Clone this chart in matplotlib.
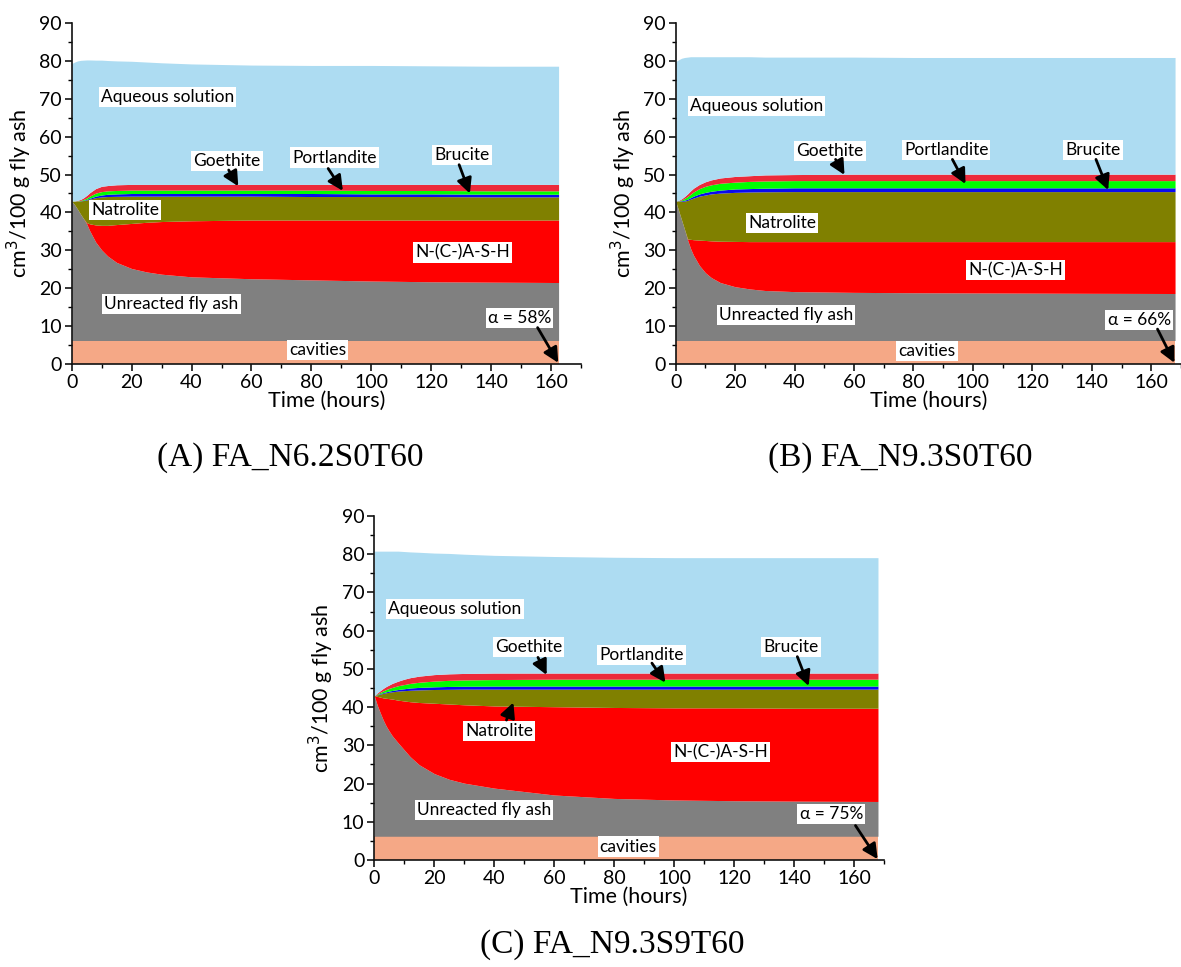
import numpy as np
import matplotlib
matplotlib.use('Agg')
import matplotlib.pyplot as plt

plt.rcParams['font.family'] = ['Lato', 'DejaVu Sans']

# --- data (top boundary of each layer, cm3/100 g fly ash) ---
cavities = 6.2

t_a = [0, 1, 2, 3, 4, 5, 6, 8, 10, 12, 15, 20, 25, 30, 40, 60, 80, 100, 120, 140, 162.5]
ash_a = [43, 42, 40.8, 39.5, 38.3, 37, 35.2, 32.2, 30.1, 28.5, 26.8, 25.2, 24.3, 23.7, 23.0, 22.5, 22.2, 21.9, 21.7, 21.6, 21.5]
nash_a = [43, 42, 40.8, 39.5, 38.3, 37.3, 37.0, 36.7, 36.6, 36.6, 36.8, 37.1, 37.4, 37.6, 37.8, 38.0, 38.0, 38.0, 38.0, 38.0, 38.0]
natro_a = [43, 43, 43, 43.05, 43.15, 43.3, 43.5, 43.9, 44.1, 44.2, 44.25, 44.3, 44.3, 44.3, 44.3, 44.3, 44.2, 44.2, 44.2, 44.1, 44.1]
bruc_a = [43, 43, 43.02, 43.1, 43.25, 43.45, 43.75, 44.3, 44.6, 44.8, 44.9, 45.0, 45.0, 45.0, 45.0, 45.0, 45.0, 44.9, 44.9, 44.8, 44.8]
port_a = [43, 43.02, 43.08, 43.2, 43.45, 43.8, 44.3, 45.1, 45.5, 45.7, 45.8, 45.9, 45.9, 45.9, 45.9, 45.9, 45.9, 45.8, 45.8, 45.7, 45.7]
goet_a = [43, 43.05, 43.2, 43.45, 43.9, 44.5, 45.2, 46.3, 46.9, 47.1, 47.3, 47.4, 47.4, 47.4, 47.4, 47.4, 47.4, 47.4, 47.4, 47.4, 47.4]
total_a = [79.3, 79.7, 80.0, 80.15, 80.2, 80.25, 80.25, 80.2, 80.2, 80.1, 80.0, 79.9, 79.7, 79.5, 79.2, 78.9, 78.8, 78.8, 78.7, 78.6, 78.6]

t_b = [0, 1, 2, 3, 4, 5, 6, 8, 10, 12, 15, 20, 25, 30, 40, 60, 80, 100, 120, 140, 168]
ash_b = [43, 40.5, 38, 35.5, 32.8, 30.5, 28.7, 26.0, 24.1, 22.8, 21.5, 20.4, 19.8, 19.4, 19.1, 18.9, 18.8, 18.75, 18.7, 18.65, 18.6]
nash_b = [43, 40.5, 38, 35.5, 33.0, 32.9, 32.8, 32.7, 32.6, 32.5, 32.4, 32.35, 32.3, 32.3, 32.3, 32.3, 32.3, 32.3, 32.3, 32.3, 32.3]
natro_b = [43, 43, 42.95, 43.0, 43.2, 43.5, 43.8, 44.3, 44.6, 44.9, 45.1, 45.3, 45.4, 45.45, 45.5, 45.5, 45.5, 45.5, 45.5, 45.5, 45.5]
bruc_b = [43, 43.05, 43.1, 43.25, 43.5, 43.9, 44.3, 44.9, 45.3, 45.6, 45.9, 46.2, 46.3, 46.4, 46.5, 46.5, 46.5, 46.5, 46.5, 46.5, 46.5]
port_b = [43, 43.1, 43.3, 43.7, 44.2, 44.8, 45.4, 46.3, 46.9, 47.3, 47.7, 48.0, 48.2, 48.3, 48.4, 48.4, 48.4, 48.4, 48.4, 48.4, 48.4]
goet_b = [43, 43.2, 43.6, 44.2, 44.9, 45.7, 46.4, 47.4, 48.1, 48.6, 49.1, 49.5, 49.7, 49.9, 50.0, 50.1, 50.1, 50.1, 50.1, 50.1, 50.1]
total_b = [79.8, 80.3, 80.7, 80.9, 81.0, 81.1, 81.1, 81.1, 81.1, 81.1, 81.1, 81.1, 81.1, 81.0, 81.0, 81.0, 80.9, 80.9, 80.9, 80.9, 80.9]

t_c = [0, 1, 2, 3, 4, 5, 6, 8, 10, 12, 15, 20, 25, 30, 40, 60, 80, 100, 120, 140, 168]
ash_c = [43, 40.5, 38.5, 36.6, 35.0, 33.7, 32.5, 30.6, 28.8, 27.0, 24.9, 22.6, 21.1, 20.1, 18.8, 17.0, 16.1, 15.7, 15.5, 15.4, 15.3]
nash_c = [43, 42.8, 42.6, 42.4, 42.3, 42.2, 42.1, 41.8, 41.6, 41.4, 41.2, 41.0, 40.8, 40.6, 40.3, 40.1, 39.9, 39.8, 39.8, 39.7, 39.7]
natro_c = [43, 43.2, 43.4, 43.6, 43.75, 43.9, 44.0, 44.2, 44.3, 44.4, 44.5, 44.6, 44.65, 44.7, 44.7, 44.7, 44.7, 44.7, 44.7, 44.7, 44.7]
bruc_c = [43, 43.3, 43.55, 43.8, 44.0, 44.2, 44.35, 44.6, 44.8, 45.0, 45.15, 45.3, 45.4, 45.45, 45.5, 45.5, 45.5, 45.5, 45.5, 45.5, 45.5]
port_c = [43, 43.45, 43.85, 44.25, 44.6, 44.9, 45.15, 45.6, 45.9, 46.2, 46.5, 46.8, 47.0, 47.1, 47.2, 47.3, 47.3, 47.3, 47.3, 47.3, 47.3]
goet_c = [43, 43.7, 44.3, 44.9, 45.4, 45.8, 46.2, 46.8, 47.3, 47.7, 48.1, 48.5, 48.7, 48.8, 48.9, 48.9, 48.9, 48.9, 48.9, 48.9, 48.9]
total_c = [80.8, 80.8, 80.8, 80.8, 80.8, 80.8, 80.8, 80.8, 80.7, 80.6, 80.5, 80.3, 80.2, 80.0, 79.7, 79.4, 79.2, 79.1, 79.1, 79.1, 79.1]

captions = ['(A) FA_N6.2S0T60', '(B) FA_N9.3S0T60', '(C) FA_N9.3S9T60']
alphas = ['α = 58%', 'α = 66%', 'α = 75%']

# layer colours, bottom -> top
colors = ['#F5A886', '#808080', '#FF0000', '#808000', '#0A0AF0', '#00FF00', '#EC2A3A', '#ADDCF2']

# label positions (x, y) and arrow (tail -> tip) in data coords
labels_a = {
    'Aqueous solution': (32.0, 70.5), 'Natrolite': (17.8, 40.6), 'N-(C-)A-S-H': (130.4, 29.4),
    'Unreacted fly ash': (33.3, 15.8), 'cavities': (82.1, 3.7),
}
arrows_a = [('Goethite', (51.8, 53.6), (52.4, 51.2), (55.6, 46.9)),
            ('Portlandite', (87.7, 54.5), (85.6, 51.6), (90.5, 45.7)),
            ('Brucite', (130.3, 55.1), (129.3, 52.6), (132.9, 45.0)),
            (alphas[0], (149.5, 12.1), (155.5, 9.6), (162.4, 0.3))]
labels_b = {
    'Aqueous solution': (27.2, 68.1), 'Natrolite': (35.9, 37.3), 'N-(C-)A-S-H': (114.4, 24.8),
    'Unreacted fly ash': (37.1, 12.9), 'cavities': (84.6, 3.5),
}
arrows_b = [('Goethite', (51.9, 56.3), (53.8, 54.0), (56.8, 49.9)),
            ('Portlandite', (91.0, 56.5), (93.1, 54.0), (97.5, 47.5)),
            ('Brucite', (140.4, 56.5), (141.4, 54.0), (145.5, 45.9)),
            (alphas[1], (155.9, 11.6), (162.1, 9.2), (167.8, 0.3))]
labels_c = {
    'Aqueous solution': (26.9, 65.6), 'N-(C-)A-S-H': (115.4, 28.2),
    'Unreacted fly ash': (36.6, 13.1), 'cavities': (84.7, 3.5),
}
arrows_c = [('Goethite', (51.5, 55.7), (54.6, 53.0), (57.5, 48.4)),
            ('Portlandite', (89.1, 53.7), (92.6, 51.5), (97.1, 46.4)),
            ('Brucite', (139.0, 55.8), (141.1, 53.2), (144.9, 45.5)),
            ('Natrolite', (41.6, 33.8), (44.1, 36.6), (46.4, 41.2)),
            (alphas[2], (152.4, 12.0), (160.5, 9.0), (167.9, 0.2))]

panels = [
    ([0.0607, 0.6236, 0.4313, 0.3526], 170, t_a, [ash_a, nash_a, natro_a, bruc_a, port_a, goet_a, total_a], labels_a, arrows_a),
    ([0.5721, 0.6236, 0.4279, 0.3526], 168.5, t_b, [ash_b, nash_b, natro_b, bruc_b, port_b, goet_b, total_b], labels_b, arrows_b),
    ([0.3169, 0.1107, 0.4316, 0.3557], 170, t_c, [ash_c, nash_c, natro_c, bruc_c, port_c, goet_c, total_c], labels_c, arrows_c),
]

fig = plt.figure(figsize=(11.81, 9.67), dpi=100)

box = dict(boxstyle='square,pad=0.12', fc='white', ec='none')
for rect, xmax, t, bounds, labels, arrows in panels:
    ax = fig.add_axes(rect)
    t = np.array(t)
    lower = np.zeros(len(t))
    tops = [np.full(len(t), cavities)] + [np.array(b) for b in bounds]
    for top, c in zip(tops, colors):
        ax.fill_between(t, lower, top, color=c, lw=0)
        lower = top
    ax.set_xlim(0, xmax)
    ax.set_ylim(0, 90)
    ax.set_xticks(np.arange(0, 161, 20))
    ax.set_xticks(np.arange(0, 171, 10), minor=True)
    ax.set_yticks(np.arange(0, 91, 10))
    ax.set_yticks(np.arange(0, 91, 5), minor=True)
    ax.spines['top'].set_visible(False)
    ax.spines['right'].set_visible(False)
    for s in ['left', 'bottom']:
        ax.spines[s].set_linewidth(1.2)
        ax.spines[s].set_color('#111111')
    ax.tick_params(which='major', direction='out', length=5, width=1.1, labelsize=14, pad=2)
    ax.tick_params(which='minor', direction='out', length=3, width=1.0)
    ax.set_xlabel('Time (hours)', fontsize=15.5, labelpad=0)
    ax.set_ylabel('cm$^3$/100 g fly ash', fontsize=15.5, labelpad=4)
    for txt, (x, y) in labels.items():
        ax.text(x, y, txt, ha='center', va='center', fontsize=12.5, bbox=box)
    for txt, (x, y), tail, tip in arrows:
        ax.text(x, y, txt, ha='center', va='center', fontsize=12.5, bbox=box)
        ax.annotate('', xy=tip, xytext=tail, annotation_clip=False,
                    arrowprops=dict(arrowstyle='-|>,head_length=0.9,head_width=0.45',
                                    color='k', lw=2.0, shrinkA=0, shrinkB=0))

fig.text(290 / 1181, 1 - 458 / 967, captions[0], ha='center', va='center',
         family='Liberation Serif', fontsize=24)
fig.text(900 / 1181, 1 - 458 / 967, captions[1], ha='center', va='center',
         family='Liberation Serif', fontsize=24)
fig.text(612 / 1181, 1 - 945 / 967, captions[2], ha='center', va='center',
         family='Liberation Serif', fontsize=24)

fig.savefig('out.png', dpi=100, facecolor='white')
